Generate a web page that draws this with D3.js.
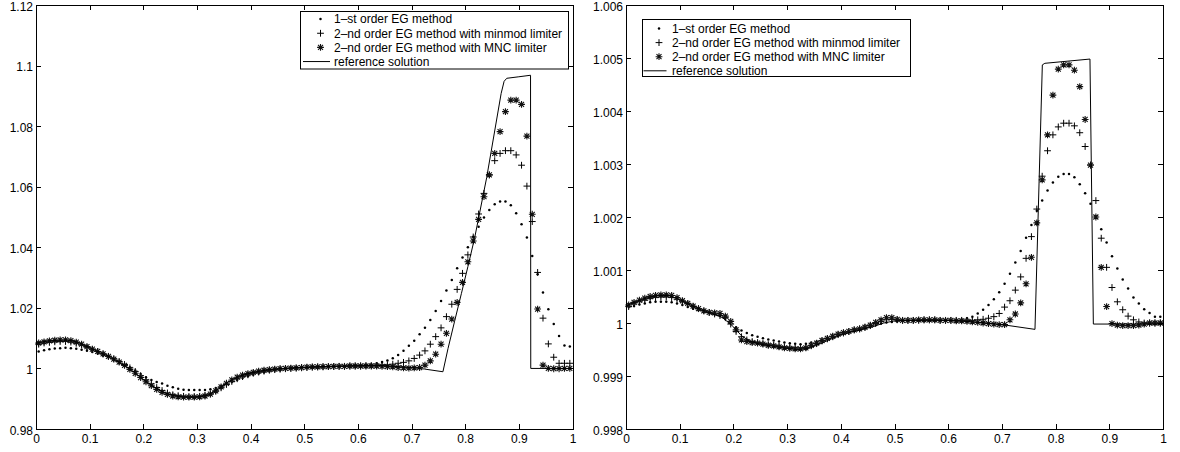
<!DOCTYPE html>
<html><head><meta charset="utf-8">
<script src="https://cdn.jsdelivr.net/npm/d3@7"></script>
<style>
html,body{margin:0;padding:0;background:#fff;}
svg{display:block;}
text{font-family:"Liberation Sans",Arial,Helvetica,sans-serif;fill:#000;}
</style></head><body>
<svg id="c" width="1180" height="452"></svg>
<script>
// ---------- data ----------
const cells = d3.range(100).map(i => (i + 0.5) / 100); // cell centres of the 100-cell mesh
const seriesNames = ["1\u2013st order EG method", "2\u2013nd order EG method with minmod limiter", "2\u2013nd order EG method with MNC limiter", "reference solution"];
const xTicks = [0, 0.1, 0.2, 0.3, 0.4, 0.5, 0.6, 0.7, 0.8, 0.9, 1];
const xTickLabels = ["0", "0.1", "0.2", "0.3", "0.4", "0.5", "0.6", "0.7", "0.8", "0.9", "1"];
const yTicksL = [0.98, 1, 1.02, 1.04, 1.06, 1.08, 1.1, 1.12];
const yTickLabelsL = ["0.98", "1", "1.02", "1.04", "1.06", "1.08", "1.1", "1.12"];
const yTicksR = [0.998, 0.999, 1, 1.001, 1.002, 1.003, 1.004, 1.005, 1.006];
const yTickLabelsR = ["0.998", "0.999", "1", "1.001", "1.002", "1.003", "1.004", "1.005", "1.006"];

// left panel
const firstL = [1.0056,1.0060,1.0063,1.0066,1.0067,1.0068,1.0067,1.0065,1.0062,1.0058,
 1.0054,1.0049,1.0043,1.0037,1.0030,1.0022,1.0013,1.0003,0.9993,0.9982,
 0.9971,0.9962,0.9955,0.9950,0.9943,0.9938,0.9933,0.9930,0.9929,0.9929,
 0.9929,0.9929,0.9931,0.9935,0.9941,0.9948,0.9955,0.9962,0.9968,0.9974,
 0.9979,0.9983,0.9987,0.9990,0.9993,0.9995,0.9997,0.9999,1.0000,1.0001,
 1.0002,1.0003,1.0004,1.0004,1.0005,1.0006,1.0006,1.0007,1.0008,1.0009,
 1.0010,1.0012,1.0014,1.0017,1.0021,1.0026,1.0034,1.0044,1.0058,1.0075,
 1.0091,1.0113,1.0134,1.0160,1.0190,1.0223,1.0257,1.0292,1.0331,1.0366,
 1.0400,1.0435,1.0468,1.0498,1.0523,1.0542,1.0551,1.0551,1.0539,1.0512,
 1.0476,1.0432,1.0371,1.0311,1.0251,1.0195,1.0147,1.0107,1.0076,1.0072];
const minmodL = [1.0080,1.0084,1.0086,1.0088,1.0089,1.0089,1.0087,1.0083,1.0077,1.0070,
 1.0063,1.0056,1.0048,1.0040,1.0032,1.0023,1.0013,1.0002,0.9990,0.9976,
 0.9962,0.9949,0.9937,0.9927,0.9919,0.9913,0.9910,0.9908,0.9907,0.9907,
 0.9908,0.9911,0.9916,0.9925,0.9936,0.9947,0.9957,0.9966,0.9973,0.9979,
 0.9984,0.9988,0.9991,0.9994,0.9996,0.9998,0.9999,1.0000,1.0001,1.0002,
 1.0003,1.0004,1.0005,1.0005,1.0006,1.0006,1.0007,1.0007,1.0008,1.0008,
 1.0008,1.0009,1.0009,1.0010,1.0011,1.0012,1.0014,1.0017,1.0020,1.0025,
 1.0033,1.0044,1.0058,1.0080,1.0105,1.0134,1.0171,1.0212,1.0261,1.0314,
 1.0375,1.0434,1.0510,1.0578,1.0639,1.0686,1.0710,1.0719,1.0719,1.0705,
 1.0671,1.0602,1.0485,1.0317,1.0166,1.0081,1.0037,1.0017,1.0017,1.0017];
const mncL = [1.0084,1.0088,1.0091,1.0093,1.0094,1.0094,1.0092,1.0087,1.0080,1.0072,
 1.0064,1.0056,1.0048,1.0040,1.0031,1.0021,1.0010,0.9997,0.9984,0.9970,
 0.9956,0.9943,0.9931,0.9921,0.9914,0.9909,0.9906,0.9905,0.9905,0.9905,
 0.9906,0.9909,0.9915,0.9926,0.9939,0.9951,0.9962,0.9971,0.9978,0.9983,
 0.9987,0.9991,0.9994,0.9996,0.9998,0.9999,1.0000,1.0001,1.0002,1.0003,
 1.0004,1.0005,1.0005,1.0006,1.0006,1.0007,1.0007,1.0007,1.0008,1.0008,
 1.0008,1.0008,1.0008,1.0008,1.0007,1.0006,1.0005,1.0003,1.0002,1.0001,
 1.0002,1.0003,1.0011,1.0025,1.0047,1.0080,1.0116,1.0163,1.0218,1.0284,
 1.0352,1.0421,1.0492,1.0567,1.0639,1.0710,1.0782,1.0848,1.0886,1.0886,
 1.0872,1.0767,1.0509,1.0196,1.0011,1.0000,0.9999,0.9999,1.0000,1.0000];
const refXL = [0,0.02,0.04,0.06,0.08,0.10,0.12,0.14,0.16,0.18,0.20,0.22,0.24,0.26,0.28,0.30,0.32,0.34,0.36,0.38,0.40,0.42,0.44,0.46,
 0.50,0.55,0.60,0.65,0.70,0.724,0.7585,0.768,0.780,0.793,0.805,0.8175,0.84,0.867,0.8725,0.8775,0.90,0.9218,0.9222,1.0];
const refYL = [1.0083,1.0090,1.0093,1.0094,1.0085,1.0068,1.0052,1.0036,1.0016,0.9992,0.9964,0.9939,0.9919,0.9909,0.9905,0.9905,0.9911,0.9932,0.9957,0.9975,0.9985,0.9992,0.9997,1.0000,
 1.0004,1.0007,1.0009,1.0009,1.0003,0.9998,0.9989,1.0066,1.0154,1.0248,1.0336,1.0430,1.0630,1.0908,1.0948,1.0958,1.0963,1.0968,1.0000,1.0000];

// right panel
const firstR = [1.00030,1.00032,1.00035,1.00037,1.00039,1.00040,1.00040,1.00040,1.00039,1.00037,
 1.00034,1.00030,1.00027,1.00024,1.00021,1.00019,1.00016,1.00013,1.00008,1.00002,
 0.99992,0.99986,0.99981,0.99977,0.99974,0.99971,0.99969,0.99967,0.99965,0.99963,
 0.99962,0.99961,0.99960,0.99961,0.99963,0.99965,0.99968,0.99971,0.99974,0.99977,
 0.99980,0.99983,0.99985,0.99988,0.99990,0.99993,0.99996,0.99999,1.00001,1.00002,
 1.00003,1.00004,1.00004,1.00005,1.00005,1.00005,1.00005,1.00005,1.00005,1.00005,
 1.00005,1.00006,1.00007,1.00009,1.00012,1.00018,1.00025,1.00034,1.00045,1.00058,
 1.00074,1.00093,1.00114,1.00136,1.00161,1.00185,1.00212,1.00231,1.00250,1.00265,
 1.00276,1.00281,1.00281,1.00275,1.00262,1.00245,1.00225,1.00200,1.00177,1.00152,
 1.00126,1.00103,1.00082,1.00065,1.00048,1.00037,1.00026,1.00019,1.00012,1.00012];
const minmodR = [1.00031,1.00036,1.00040,1.00043,1.00046,1.00048,1.00049,1.00049,1.00048,1.00045,
 1.00041,1.00036,1.00031,1.00027,1.00023,1.00020,1.00017,1.00014,1.00010,0.99998,
 0.99984,0.99974,0.99968,0.99965,0.99963,0.99961,0.99959,0.99958,0.99956,0.99955,
 0.99954,0.99953,0.99953,0.99954,0.99957,0.99961,0.99966,0.99970,0.99974,0.99978,
 0.99981,0.99984,0.99987,0.99989,0.99992,0.99995,0.99999,1.00003,1.00006,1.00007,
 1.00006,1.00005,1.00005,1.00005,1.00005,1.00006,1.00006,1.00006,1.00005,1.00005,
 1.00005,1.00005,1.00005,1.00005,1.00005,1.00006,1.00007,1.00009,1.00012,1.00018,
 1.00030,1.00042,1.00062,1.00087,1.00122,1.00163,1.00215,1.00277,1.00325,1.00355,
 1.00370,1.00377,1.00377,1.00372,1.00359,1.00333,1.00298,1.00231,1.00160,1.00105,
 1.00067,1.00040,1.00025,1.00013,1.00006,1.00002,1.00000,1.00000,1.00000,1.00000];
const mncR = [1.00034,1.00039,1.00043,1.00047,1.00050,1.00052,1.00053,1.00053,1.00052,1.00048,
 1.00042,1.00037,1.00032,1.00027,1.00023,1.00020,1.00019,1.00018,1.00013,1.00003,
 0.99987,0.99968,0.99965,0.99963,0.99962,0.99960,0.99958,0.99957,0.99955,0.99953,
 0.99952,0.99951,0.99951,0.99953,0.99958,0.99962,0.99967,0.99971,0.99975,0.99979,
 0.99982,0.99984,0.99987,0.99989,0.99992,0.99996,1.00001,1.00006,1.00010,1.00010,
 1.00007,1.00005,1.00005,1.00005,1.00006,1.00006,1.00006,1.00006,1.00005,1.00005,
 1.00005,1.00004,1.00004,1.00003,1.00002,1.00001,1.00000,0.99999,0.99998,0.99997,
 0.99997,1.00006,1.00017,1.00038,1.00074,1.00124,1.00189,1.00270,1.00355,1.00430,
 1.00479,1.00487,1.00487,1.00477,1.00446,1.00384,1.00298,1.00200,1.00105,1.00031,
 0.99999,0.99996,0.99995,0.99995,0.99995,0.99996,0.99998,1.00000,1.00000,1.00000];
const refXR = [0,0.02,0.04,0.06,0.08,0.10,0.12,0.14,0.16,0.18,0.20,0.215,0.23,0.25,0.28,
 0.30,0.32,0.34,0.36,0.38,0.40,0.42,0.44,0.46,0.48,0.50,0.55,0.60,0.65,0.70,0.7616,0.7753,0.78,0.864,0.8703,1.0];
const refYR = [1.00032,1.00041,1.00048,1.00052,1.00052,1.00044,1.00034,1.00025,1.00018,1.00010,0.99993,0.99976,0.99966,0.99960,0.99955,
 0.99952,0.99950,0.99952,0.99960,0.99969,0.99977,0.99983,0.99988,0.99993,1.00000,1.00004,1.00005,1.00005,1.00002,0.99997,0.99988,1.00487,1.00490,1.00498,0.99998,0.99998];

// ---------- drawing ----------
const svg = d3.select("#c");
const FONT = '"Liberation Sans",Arial,Helvetica,sans-serif';
const plusPath = "M-3.4,0H3.4M0,-3.4V3.4";
const starPath = "M-3.4,0H3.4M0,-3.4V3.4M-2.5,-2.5L2.5,2.5M-2.5,2.5L2.5,-2.5";

function drawMarker(g, type, cx, cy) {
  if (type === "dot") {
    g.append("circle").attr("cx", cx).attr("cy", cy).attr("r", 1.25).attr("fill", "#000");
  } else if (type === "plus") {
    g.append("path").attr("d", plusPath).attr("transform", `translate(${cx},${cy})`)
      .attr("stroke", "#000").attr("stroke-width", 1).attr("fill", "none");
  } else if (type === "star") {
    g.append("path").attr("d", starPath).attr("transform", `translate(${cx},${cy})`)
      .attr("stroke", "#111").attr("stroke-width", 1.1).attr("fill", "none");
  }
}

function panel(cfg) {
  const g = svg.append("g");
  const x = d3.scaleLinear().domain([0, 1]).range([cfg.left, cfg.right]);
  const y = d3.scaleLinear().domain(cfg.yDomain).range([cfg.bottom, cfg.top]);

  // markers
  const mk = g.append("g");
  cells.forEach((c, i) => drawMarker(mk, "dot", x(c), y(cfg.first[i])));
  cells.forEach((c, i) => drawMarker(mk, "plus", x(c), y(cfg.minmod[i])));
  cells.forEach((c, i) => drawMarker(mk, "star", x(c), y(cfg.mnc[i])));

  // reference line
  const pts = cfg.refX.map((v, i) => [v, cfg.refY[i]]);
  g.append("path").datum(pts)
    .attr("d", d3.line().x(d => x(d[0])).y(d => y(d[1])))
    .attr("fill", "none").attr("stroke", "#000").attr("stroke-width", 1);

  // axes
  const styleAxis = sel => {
    sel.attr("font-family", FONT).attr("font-size", 12);
    sel.selectAll(".domain").attr("stroke", "#000").attr("stroke-width", 1).attr("shape-rendering", "crispEdges");
    sel.selectAll(".tick line").attr("stroke", "#000").attr("stroke-width", 1).attr("shape-rendering", "crispEdges");
    sel.selectAll(".tick text").attr("fill", "#000");
  };
  g.append("g").attr("transform", `translate(0,${cfg.bottom})`)
    .call(d3.axisBottom(x).tickValues(xTicks).tickFormat((d, i) => xTickLabels[i]).tickSizeInner(-5).tickSizeOuter(0).tickPadding(5))
    .call(styleAxis);
  g.append("g").attr("transform", `translate(0,${cfg.top})`)
    .call(d3.axisTop(x).tickValues(xTicks).tickFormat("").tickSizeInner(-5).tickSizeOuter(0))
    .call(styleAxis);
  g.append("g").attr("transform", `translate(${cfg.left},0)`)
    .call(d3.axisLeft(y).tickValues(cfg.yTicks).tickFormat((d, i) => cfg.yTickLabels[i]).tickSizeInner(-5).tickSizeOuter(0).tickPadding(3))
    .call(styleAxis)
    .call(sel => sel.selectAll(".tick text").attr("dy", "0.42em"));
  g.append("g").attr("transform", `translate(${cfg.right},0)`)
    .call(d3.axisRight(y).tickValues(cfg.yTicks).tickFormat("").tickSizeInner(-5).tickSizeOuter(0))
    .call(styleAxis);

  // legend
  const L = cfg.legend;
  const lg = g.append("g");
  lg.append("rect").attr("x", L.x).attr("y", L.y).attr("width", L.w).attr("height", L.h)
    .attr("fill", "#fff").attr("stroke", "#000").attr("stroke-width", 1);
  const types = ["dot", "plus", "star", "line"];
  seriesNames.forEach((name, i) => {
    const ry = L.y + L.row0 + i * L.step;
    if (types[i] === "line") {
      lg.append("line").attr("x1", L.x + L.line0).attr("x2", L.x + L.line1).attr("y1", ry).attr("y2", ry)
        .attr("stroke", "#000").attr("stroke-width", 1);
    } else {
      drawMarker(lg, types[i], L.x + L.mark, ry);
    }
    lg.append("text").attr("x", L.x + L.text).attr("y", ry).attr("dy", "0.36em")
      .attr("font-family", FONT).attr("font-size", 12).text(name);
  });
}

panel({
  left: 36, right: 572.5, top: 5, bottom: 429,
  yDomain: [0.98, 1.12], yTicks: yTicksL, yTickLabels: yTickLabelsL,
  first: firstL, minmod: minmodL, mnc: mncL, refX: refXL, refY: refYL,
  legend: { x: 300.5, y: 11.5, w: 268, h: 57.5, row0: 7.6, step: 14.15, mark: 20, text: 33.5, line0: 2.5, line1: 29.5 }
});
panel({
  left: 626, right: 1163, top: 5, bottom: 429,
  yDomain: [0.998, 1.006], yTicks: yTicksR, yTickLabels: yTickLabelsR,
  first: firstR, minmod: minmodR, mnc: mncR, refX: refXR, refY: refYR,
  legend: { x: 642.5, y: 19.5, w: 268, h: 57, row0: 9, step: 14.1, mark: 16.5, text: 29.5, line0: 1, line1: 24 }
});
</script>
</body></html>
